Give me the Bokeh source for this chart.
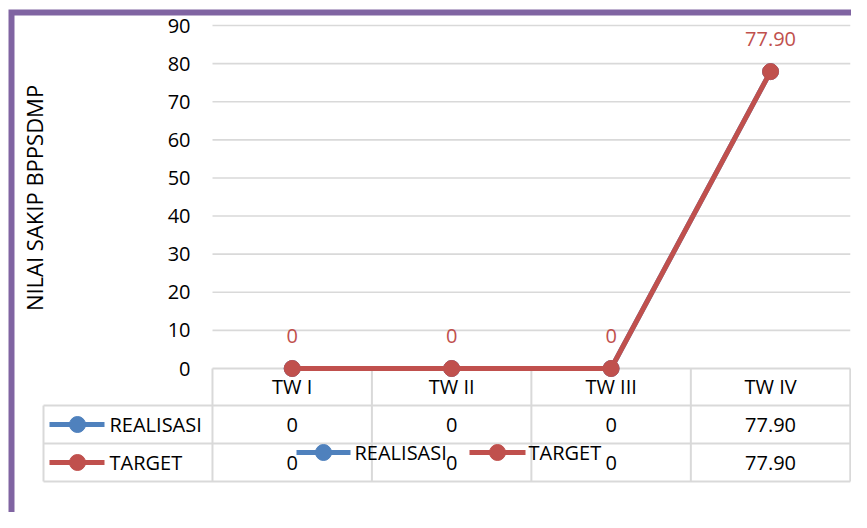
import math
from bokeh.plotting import figure
from bokeh.models import Range1d
from bokeh.core.properties import value
from bokeh.embed import file_html
from bokeh.resources import INLINE

# ---- data ----
categories = ["TW I", "TW II", "TW III", "TW IV"]
realisasi = [0, 0, 0, 77.90]
target = [0, 0, 0, 77.90]
series_names = ["REALISASI", "TARGET"]
y_ticks = [0, 10, 20, 30, 40, 50, 60, 70, 80, 90]
axis_title = "NILAI SAKIP BPPSDMP"


def fmt(v):
    return "0" if v == 0 else f"{v:.2f}"


# ---- styling ----
BLUE = "#4F81BD"
RED = "#C0504D"
PURPLE = "#8064A2"
GRID = "#D9D9D9"
FONT = value("Open Sans")
FS = "20px"

# ---- layout (pixel helpers, canvas coordinates) ----
W, H = 851, 512
XP0, XSTEP = 291.7, 159.45
YP0, YSTEP = 368.0, 343.0 / 90.0


def X(px):
    return (px - XP0) / XSTEP


def Y(py):
    return (YP0 - py) / YSTEP


n = len(categories)
idx = list(range(n))

p = figure(width=W, height=H,
           x_range=Range1d(X(0), X(W)),
           y_range=Range1d(Y(H), Y(0)),
           x_axis_type=None, y_axis_type=None,
           toolbar_location=None, output_backend="svg", min_border=0)
p.outline_line_color = None
p.background_fill_color = "white"
p.border_fill_color = "white"

# purple chart border (top and left)
p.line(x=[X(11), X(11), X(W + 5)], y=[Y(H + 5), Y(12), Y(12)],
       line_color=PURPLE, line_width=6, line_join="miter")

# gridlines
gt = [t for t in y_ticks if t > 0]
p.segment(x0=[X(212)] * len(gt), x1=[n - 0.5] * len(gt), y0=gt, y1=gt,
          line_color=GRID, line_width=1.6)

# table lines
row_lines = [Y(368), Y(405), Y(443), Y(481)]
p.segment(x0=[-0.5] + [X(43)] * 3, x1=[n - 0.5] * 4, y0=row_lines, y1=row_lines,
          line_color=GRID, line_width=2)
col_edges = [i - 0.5 for i in range(n + 1)]
p.segment(x0=col_edges, x1=col_edges, y0=[Y(368)] * (n + 1), y1=[Y(481)] * (n + 1),
          line_color=GRID, line_width=2)
p.segment(x0=[X(43)], x1=[X(43)], y0=[Y(405)], y1=[Y(481)],
          line_color=GRID, line_width=2)

# y tick labels
p.text(x=[X(190)] * len(y_ticks), y=y_ticks, text=[str(t) for t in y_ticks],
       text_font=FONT, text_font_size=FS, text_color="black",
       text_align="right", text_baseline="middle")

# axis title
p.text(x=[X(33)], y=[Y(197.5)], text=[axis_title], angle=math.pi / 2,
       text_font=FONT, text_font_size="22px", text_color="black",
       text_align="center", text_baseline="middle")

# series
for vals, col in ((realisasi, BLUE), (target, RED)):
    p.line(x=idx, y=vals, line_color=col, line_width=5)
    p.scatter(x=idx, y=vals, size=16, fill_color=col, line_color=col)

# data labels
p.text(x=idx, y=target, text=[fmt(v) for v in target], y_offset=-33,
       text_font=FONT, text_font_size=FS, text_color=RED,
       text_align="center", text_baseline="middle")

# table: header + values
p.text(x=idx, y=[Y(386)] * n, text=categories,
       text_font=FONT, text_font_size=FS, text_color="black",
       text_align="center", text_baseline="middle")
rows_y = [Y(424), Y(462)]
for vals, ry in zip((realisasi, target), rows_y):
    p.text(x=idx, y=[ry] * n, text=[fmt(v) for v in vals],
           text_font=FONT, text_font_size=FS, text_color="black",
           text_align="center", text_baseline="middle")

# table legend keys
for name, col, ry in zip(series_names, (BLUE, RED), rows_y):
    p.line(x=[X(49), X(104)], y=[ry, ry], line_color=col, line_width=5)
    p.scatter(x=[X(77)], y=[ry], size=16, fill_color=col, line_color=col)
    p.text(x=[X(109)], y=[ry], text=[name], text_font=FONT, text_font_size=FS,
           text_color="black", text_align="left", text_baseline="middle")

# bottom legend (overlapping table, as in the original)
leg_y = Y(452)
for name, col, (x0, x1, xt) in zip(series_names, (BLUE, RED),
                                   ((296, 350, 354), (469, 525, 528))):
    p.line(x=[X(x0), X(x1)], y=[leg_y, leg_y], line_color=col, line_width=5)
    p.scatter(x=[X((x0 + x1) / 2)], y=[leg_y], size=16, fill_color=col, line_color=col)
    p.text(x=[X(xt)], y=[leg_y], text=[name], text_font=FONT, text_font_size=FS,
           text_color="black", text_align="left", text_baseline="middle")

open("out.html", "w").write(file_html(p, INLINE))
